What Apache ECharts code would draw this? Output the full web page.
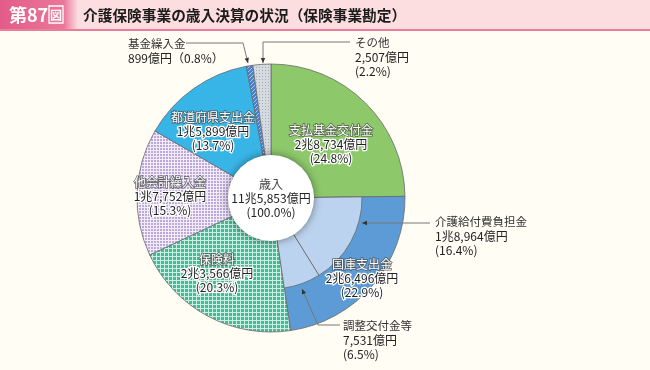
<!DOCTYPE html>
<html><head><meta charset="utf-8">
<script src="https://cdn.jsdelivr.net/npm/echarts@6/dist/echarts.min.js"></script>
<style>html,body{margin:0;padding:0;background:#fffdf4;} #c{width:650px;height:370px;}</style>
</head><body><div id="c"></div>
<script>
// ---- data (億円) ----
const categories = ['支払基金交付金','国庫支出金','保険料','他会計繰入金','都道府県支出金','基金繰入金','その他'];
const values = [28734, 26496, 23566, 17752, 15899, 899, 2507];
const subParent = '国庫支出金';
const subCategories = ['介護給付費負担金','調整交付金等'];
const subValues = [18964, 7531];
const totalName = '歳入';
const totalValue = 115853;
const titleText = '介護保険事業の歳入決算の状況（保険事業勘定）';
const figLabel = '第87';

// ---- layout ----
const CX = 271, CY = 198, R = 134, R_IN = 41, R_SUB = 91, R_HOLE = 43;
const FONT = '"Noto Sans CJK JP", "Noto Sans", sans-serif';
const outsideNames = ['基金繰入金','その他'];
const outerLabelPos = {
  '基金繰入金': {x:128, y:37, line:[[248,63],[243,43],[186,43]]},
  'その他': {x:355, y:36, line:[[263,63],[263,42],[350,42]]},
  '介護給付費負担金': {x:435, y:215, line:[[362,223],[396,223],[430,223]]},
  '調整交付金等': {x:343, y:319, line:[[302,289],[318,325],[340,325]]}
};
const insideLabelPos = {
  '支払基金交付金': [331,144],
  '国庫支出金': [362,278],
  '保険料': [217,273],
  '他会計繰入金': [170,196],
  '都道府県支出金': [213,131]
};

function pct(v){ return (v/totalValue*100).toFixed(1); }
function fmt(v){ const cho=Math.floor(v/10000), oku=v%10000; return (cho? cho+'兆':'') + oku.toLocaleString('en-US') + '億円'; }

function pattern(size, bg, fg, draw){
  const c=document.createElement('canvas'); c.width=c.height=size;
  const g=c.getContext('2d'); g.fillStyle=bg; g.fillRect(0,0,size,size); g.fillStyle=fg; draw(g,size);
  return {image:c, repeat:'repeat'};
}
const grid = (g,s)=>{ g.fillRect(0,0,s,1); g.fillRect(0,0,1,s); };
const colors = {
  '支払基金交付金':'#8dc96b',
  '国庫支出金':'#5d9bd6',
  '保険料': pattern(4,'#44ba97','#cdeee2',grid),
  '他会計繰入金': pattern(3,'#bba9da','#f1ecf8',grid),
  '都道府県支出金':'#38b5e7',
  '基金繰入金': pattern(4,'#4a80cc','#a6c6ee',(g,s)=>{for(let i=0;i<s;i++) g.fillRect(i,s-1-i,1,1);}),
  'その他': pattern(3,'#d4dadf','#a3acb5',(g)=>{g.fillRect(1,1,1,1);}),
  '介護給付費負担金':'#bcd3ef',
  '調整交付金等':'#bcd3ef'
};

const insideRich = {
  n:{color:'#fff', textBorderColor:'rgba(70,70,70,0.8)', textBorderWidth:1.5, fontSize:12, lineHeight:14, fontFamily:FONT},
  v:{color:'#222', textBorderColor:'#fff', textBorderWidth:2.5, fontSize:12, lineHeight:14, fontFamily:FONT}
};
const outRich = {
  n:{color:'#333', textBorderWidth:0, textBorderColor:'transparent', fontSize:11.5, lineHeight:14, fontFamily:FONT},
  v:{color:'#222', textBorderWidth:0, textBorderColor:'transparent', fontSize:12, lineHeight:14, fontFamily:FONT}
};
const transparentItem = (v)=>({value:v, name:'', itemStyle:{color:'rgba(0,0,0,0)', borderWidth:0}, label:{show:false}, labelLine:{show:false}, emphasis:{disabled:true}});

function labelLayoutFn(params){
  const t = params.text || '';
  for (const k in outerLabelPos){
    if (t.indexOf(k) >= 0){
      const p = outerLabelPos[k];
      return {x:p.x, y:p.y, align:'left', verticalAlign:'top', labelLinePoints:p.line};
    }
  }
  for (const k in insideLabelPos){
    if (t.indexOf(k) >= 0){
      const p = insideLabelPos[k];
      return {x:p[0], y:p[1], align:'center', verticalAlign:'middle'};
    }
  }
}

// main ring
const mainData = categories.map((c,i)=>{
  const d = {value: values[i], name: c, itemStyle:{color: colors[c]}};
  if (c === subParent) d.label = {show:false};
  if (outsideNames.includes(c)){
    const txt = c==='基金繰入金' ? `{n|${c}}\n{v|${fmt(values[i])}（${pct(values[i])}%）}` : `{n|${c}}\n{v|${fmt(values[i])}}\n{v|(${pct(values[i])}%)}`;
    d.label = {show:true, position:'outside', formatter: txt, rich: outRich};
    d.labelLine = {show:true, lineStyle:{color:'#777', width:1}};
  }
  return d;
});

const parentIdx = categories.indexOf(subParent);
const before = values.slice(0,parentIdx).reduce((a,b)=>a+b,0);
const subSum = subValues.reduce((a,b)=>a+b,0);
const after = totalValue - before - subSum;
const subData = [transparentItem(before)].concat(subCategories.map((c,i)=>({
  value: subValues[i], name:c, itemStyle:{color:colors[c]},
  label:{show:true, position:'outside', formatter:`{n|${c}}\n{v|${fmt(subValues[i])}}\n{v|(${pct(subValues[i])}%)}`, rich:outRich},
  labelLine:{show:true, lineStyle:{color:'#777', width:1}}
}))).concat([transparentItem(after)]);

const parentData = [transparentItem(before), {
  value: values[parentIdx], name: subParent, itemStyle:{color:'rgba(0,0,0,0)', borderWidth:0},
  label:{show:true, position:'inside', formatter:`{n|${subParent}}\n{v|${fmt(values[parentIdx])}}\n{v|(${pct(values[parentIdx])}%)}`, rich:insideRich}
}, transparentItem(totalValue - before - values[parentIdx])];

// arrowheads derived from leader lines
const arrows = Object.values(outerLabelPos).map(p=>{
  const [tx,ty] = p.line[0], [sx,sy] = p.line[1];
  const dx=tx-sx, dy=ty-sy, L=Math.hypot(dx,dy), ux=dx/L, uy=dy/L;
  const bx=tx-ux*5, by=ty-uy*5;
  return {type:'polygon', shape:{points:[[tx,ty],[bx-uy*2.2,by+ux*2.2],[bx+uy*2.2,by-ux*2.2]]}, style:{fill:'#333'}, z:100};
});

const chart = echarts.init(document.getElementById('c'), null, {renderer:'canvas'});
chart.setOption({
  backgroundColor:'#fffdf4',
  animation:false,
  graphic:[
    {type:'rect', shape:{x:0,y:0,width:650,height:29}, style:{fill:'#fcdde0'}, z:0},
    {type:'rect', shape:{x:0,y:29,width:650,height:2}, style:{fill:'#e97e9b'}, z:0},
    {type:'rect', shape:{x:0,y:0,width:78,height:29}, style:{fill:new echarts.graphic.LinearGradient(0,0,1,0,[{offset:0,color:'#e35c89'},{offset:0.82,color:'#ea779b'},{offset:1,color:'#fcdde0'}])}, z:1},
    {type:'text', style:{x:9, y:15, text:figLabel, fill:'#fff', font:'bold 18px '+FONT, verticalAlign:'middle'}, z:2},
    {type:'rect', shape:{x:49,y:6,width:14,height:17}, style:{fill:'none', stroke:'#fff', lineWidth:1.3}, z:2},
    {type:'text', style:{x:56, y:15, text:'図', fill:'#fff', font:'bold 12px '+FONT, align:'center', verticalAlign:'middle'}, z:2},
    {type:'text', style:{x:83, y:15, text:titleText, fill:'#1c1c1c', font:'bold 14.7px '+FONT, verticalAlign:'middle'}, z:2}
  ].concat(arrows),
  series:[
    {
      type:'pie', center:[CX,CY], radius:[R_IN,R], startAngle:90, clockwise:true, avoidLabelOverlap:false, silent:true,
      itemStyle:{borderColor:'#6a6a6a', borderWidth:0.8},
      label:{show:true, position:'inside', rich:insideRich,
        formatter:(p)=>`{n|${p.name}}\n{v|${fmt(p.value)}}\n{v|(${pct(p.value)}%)}`},
      labelLayout: labelLayoutFn,
      data: mainData, z:1
    },
    {
      type:'pie', center:[CX,CY], radius:[R_IN,R_SUB], startAngle:90, clockwise:true, avoidLabelOverlap:false, silent:true,
      itemStyle:{borderColor:'#6a6a6a', borderWidth:0.8},
      labelLayout: labelLayoutFn,
      data: subData, z:2
    },
    {
      type:'pie', center:[CX,CY], radius:[R_SUB,R], startAngle:90, clockwise:true, avoidLabelOverlap:false, silent:true,
      labelLayout: labelLayoutFn,
      data: parentData, z:3
    },
    {
      type:'pie', center:[CX,CY], radius:[0,R_HOLE], silent:true, z:4,
      itemStyle:{color:'#fff', shadowBlur:8, shadowColor:'rgba(0,0,0,0.45)'},
      label:{show:true, position:'center', rich:{
        n:{color:'#444', fontSize:12, lineHeight:14, fontFamily:FONT},
        v:{color:'#222', fontSize:12, lineHeight:14, fontFamily:FONT}},
        formatter:`{n|${totalName}}\n{v|${fmt(totalValue)}}\n{v|(${(100).toFixed(1)}%)}`},
      labelLine:{show:false},
      data:[{value:totalValue, name:totalName}]
    }
  ]
});
</script></body></html>
